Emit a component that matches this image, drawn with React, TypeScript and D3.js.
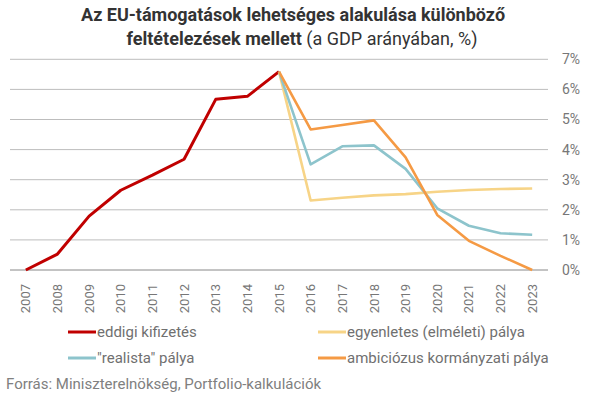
import React from "react";
import * as d3 from "d3";

// Data
const years: string[] = ["2007", "2008", "2009", "2010", "2011", "2012", "2013", "2014", "2015", "2016", "2017", "2018", "2019", "2020", "2021", "2022", "2023"];
const eddigi: (number | null)[] = [0, 0.53, 1.79, 2.65, 3.15, 3.68, 5.67, 5.77, 6.59, null, null, null, null, null, null, null, null];
const egyenletes: (number | null)[] = [null, null, null, null, null, null, null, null, 6.59, 2.31, 2.4, 2.48, 2.52, 2.6, 2.66, 2.69, 2.71];
const realista: (number | null)[] = [null, null, null, null, null, null, null, null, 6.59, 3.51, 4.11, 4.14, 3.36, 2.05, 1.47, 1.22, 1.17];
const ambiciozus: (number | null)[] = [null, null, null, null, null, null, null, null, 6.59, 4.67, 4.82, 4.97, 3.74, 1.83, 0.97, 0.47, 0];
const yTicks: number[] = [0, 1, 2, 3, 4, 5, 6, 7];

const series = [
    { name: "eddigi kifizetés", values: eddigi, color: "#C00000", width: 3 },
    { name: "egyenletes (elméleti) pálya", values: egyenletes, color: "#F7D487", width: 2.6 },
    { name: "\"realista\" pálya", values: realista, color: "#8DC4CC", width: 2.6 },
    { name: "ambiciózus kormányzati pálya", values: ambiciozus, color: "#F59A44", width: 2.6 },
];

const App: React.FC = () => {
    const width = 589;
    const height = 398;
    const plotLeft = 10;
    const plotRight = 548;
    const plotTop = 59.3;
    const plotBottom = 270;
    const font = "Roboto, 'Noto Sans', sans-serif";

    const xScale = d3.scaleBand<string>().domain(years).range([plotLeft, plotRight]);
    const yScale = d3.scaleLinear().domain([0, 7]).range([plotBottom, plotTop]);
    const xc = (y: string) => xScale(y)! + xScale.bandwidth() / 2;

    const lineGen = d3.line<number | null>()
        .defined(d => d !== null)
        .x((_, i) => xc(years[i]))
        .y(d => yScale(d as number));

    // Legend layout: two columns, two rows
    const legendPos = [
        { x: 68, y: 332 },
        { x: 318, y: 332 },
        { x: 68, y: 358 },
        { x: 318, y: 358 },
    ];

    return (
        <svg width={width} height={height} style={{ position: "absolute", left: 0, top: 0 }} fontFamily={font}>
            <rect width={width} height={height} fill="#fff" />
            {/* Title */}
            <text x={293} y={21} textAnchor="middle" fontSize={18} fontWeight="bold" fill="#333">
                Az EU-támogatások lehetséges alakulása különböző
            </text>
            <text x={302} y={45} textAnchor="middle" fontSize={18} fill="#333">
                <tspan fontWeight="bold">feltételezések mellett</tspan> (a GDP arányában, %)
            </text>

            {/* Grid lines */}
            {yTicks.map(t => (
                <line key={`g-${t}`} x1={plotLeft} x2={plotRight} y1={yScale(t)} y2={yScale(t)}
                    stroke={t === 0 ? "#888" : "#bdbdbd"} strokeWidth={1} />
            ))}

            {/* Y axis labels (right side) */}
            {yTicks.map(t => (
                <text key={`yl-${t}`} x={562} y={yScale(t)} dy="0.35em" fontSize={14} fill="#777">
                    {`${t}%`}
                </text>
            ))}

            {/* X axis labels */}
            {years.map(y => (
                <text key={`xl-${y}`} transform={`translate(${xc(y)},${284}) rotate(-90)`} dy="0.35em"
                    textAnchor="end" fontSize={13} fill="#777">
                    {y}
                </text>
            ))}

            {/* Lines */}
            {series.map(s => (
                <path key={s.name} d={lineGen(s.values) ?? ""} fill="none" stroke={s.color}
                    strokeWidth={s.width} strokeLinejoin="round" />
            ))}

            {/* Legend */}
            {series.map((s, i) => (
                <g key={`lg-${s.name}`} transform={`translate(${legendPos[i].x},${legendPos[i].y})`}>
                    <line x1={0} x2={28} y1={0} y2={0} stroke={s.color} strokeWidth={3} />
                    <text x={29} y={0} dy="0.35em" fontSize={15} fill="#707070">{s.name}</text>
                </g>
            ))}

            {/* Source */}
            <text x={6} y={389} fontSize={15} fill="#808080">
                Forrás: Miniszterelnökség, Portfolio-kalkulációk
            </text>
        </svg>
    );
};

export default App;
